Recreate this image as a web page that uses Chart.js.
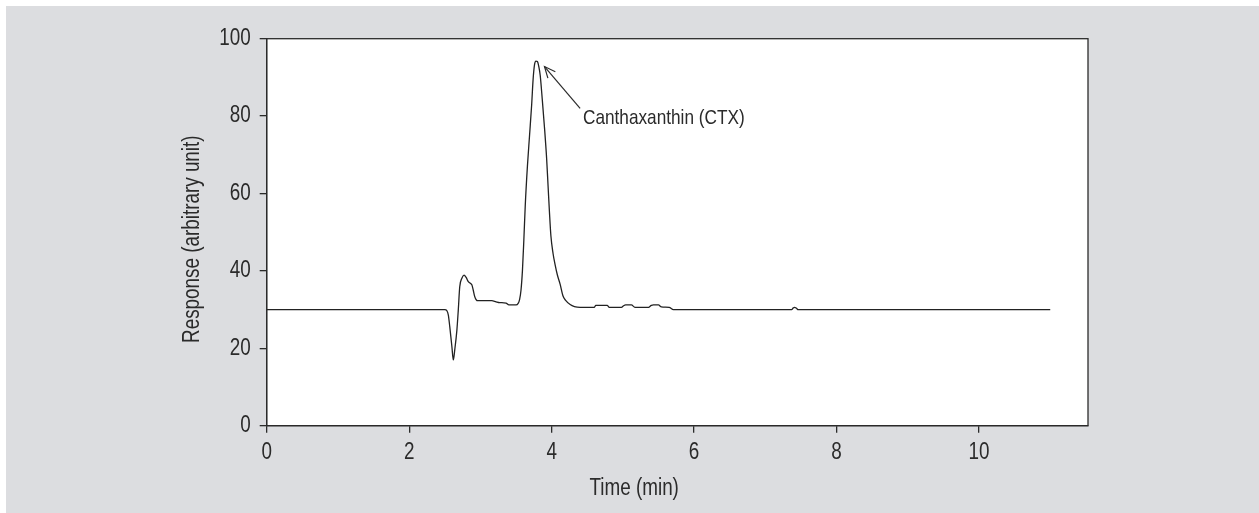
<!DOCTYPE html>
<html>
<head>
<meta charset="utf-8">
<script src="https://cdn.jsdelivr.net/npm/chart.js@4.4.1/dist/chart.umd.min.js"></script>
<style>
html,body{margin:0;padding:0;background:#ffffff;}
#wrap{position:relative;width:1259px;height:513px;}
</style>
</head>
<body>
<div id="wrap"><canvas id="c" width="1259" height="513"></canvas></div>
<script>
const timeMin = [0, 1.0, 2.0, 2.50, 2.53, 2.55, 2.57, 2.60, 2.62, 2.64, 2.67, 2.69, 2.71, 2.74, 2.77, 2.80, 2.83, 2.88, 2.90, 2.92, 2.96, 3.05, 3.16, 3.22, 3.27, 3.36, 3.40, 3.50, 3.53, 3.55, 3.57, 3.59, 3.61, 3.63, 3.66, 3.69, 3.72, 3.74, 3.76, 3.78, 3.80, 3.82, 3.84, 3.87, 3.90, 3.93, 3.95, 3.97, 3.99, 4.02, 4.05, 4.08, 4.12, 4.16, 4.20, 4.26, 4.32, 4.40, 4.60, 4.62, 4.78, 4.81, 4.98, 5.01, 5.04, 5.12, 5.17, 5.36, 5.40, 5.43, 5.50, 5.54, 5.65, 5.71, 6.5, 7.37, 7.39, 7.41, 7.44, 7.46, 9.0, 11.0];
const response = [30, 30, 30, 30, 29.7, 28.6, 25.6, 20.4, 17.0, 19.6, 24.7, 30.0, 35.9, 38.1, 38.9, 38.3, 37.2, 36.4, 35.0, 33.4, 32.3, 32.3, 32.3, 32.0, 31.8, 31.7, 31.2, 31.2, 31.6, 32.6, 35.0, 40.0, 48.0, 57.0, 67.0, 75.0, 83.0, 89.5, 93.3, 94.2, 94.1, 92.8, 90.5, 84.0, 77.0, 69.0, 62.0, 55.0, 49.0, 44.5, 41.5, 39.0, 36.5, 33.5, 32.3, 31.3, 30.8, 30.6, 30.6, 31.1, 31.1, 30.6, 30.6, 31.0, 31.2, 31.2, 30.6, 30.6, 31.1, 31.2, 31.2, 30.7, 30.6, 30.0, 30.0, 30.0, 30.4, 30.6, 30.3, 30.0, 30.0, 30.0];
const xTicks = [0, 2, 4, 6, 8, 10];
const yTicks = [0, 20, 40, 60, 80, 100];
const xTitle = 'Time (min)';
const yTitle = 'Response (arbitrary unit)';
const annotationText = 'Canthaxanthin (CTX)';
const arrowTip = [3.90, 92.8];
const arrowTail = [4.40, 82.0];
const labelPos = [4.44, 79.5];

const FONT = '"Liberation Sans", Arial, sans-serif';
const INK = '#2b2b2b';
const NARROW = 0.82;

// condensed text rendering (the reference uses a narrow sans face)
const origFill = CanvasRenderingContext2D.prototype.fillText;
CanvasRenderingContext2D.prototype.fillText = function (text, x, y, maxWidth) {
  this.save();
  this.translate(x, y);
  this.scale(NARROW, 1);
  if (maxWidth !== undefined) origFill.call(this, text, 0, 0, maxWidth / NARROW);
  else origFill.call(this, text, 0, 0);
  this.restore();
};

const bgPlugin = {
  id: 'bg',
  beforeDraw(chart) {
    const ctx = chart.ctx;
    ctx.save();
    ctx.fillStyle = '#dcdde0';
    ctx.fillRect(6, 6, chart.width - 6, chart.height - 6);
    const a = chart.chartArea;
    ctx.fillStyle = '#ffffff';
    ctx.fillRect(a.left, a.top, a.right - a.left, a.bottom - a.top);
    ctx.restore();
  },
  afterDatasetsDraw(chart) {
    const ctx = chart.ctx;
    const a = chart.chartArea;
    ctx.save();
    ctx.strokeStyle = INK;
    ctx.lineWidth = 1.3;
    ctx.strokeRect(a.left, a.top, a.right - a.left, a.bottom - a.top);
    const xs = chart.scales.x, ys = chart.scales.y;
    const tx = xs.getPixelForValue(arrowTip[0]), ty = ys.getPixelForValue(arrowTip[1]);
    const sx = xs.getPixelForValue(arrowTail[0]), sy = ys.getPixelForValue(arrowTail[1]);
    ctx.lineWidth = 1.2;
    ctx.beginPath(); ctx.moveTo(sx, sy); ctx.lineTo(tx, ty); ctx.stroke();
    const ang = Math.atan2(ty - sy, tx - sx);
    const L = 12, W = 0.42;
    ctx.beginPath();
    ctx.moveTo(tx - L * Math.cos(ang - W), ty - L * Math.sin(ang - W));
    ctx.lineTo(tx, ty);
    ctx.lineTo(tx - L * Math.cos(ang + W), ty - L * Math.sin(ang + W));
    ctx.stroke();
    ctx.fillStyle = INK;
    ctx.font = '21px ' + FONT;
    ctx.textAlign = 'left';
    ctx.textBaseline = 'middle';
    ctx.fillText(annotationText, xs.getPixelForValue(labelPos[0]), ys.getPixelForValue(labelPos[1]));
    // axis titles
    ctx.font = '23px ' + FONT;
    ctx.textAlign = 'center';
    ctx.fillText(xTitle, a.left + 367.5, a.bottom + 62.5);
    ctx.save();
    ctx.translate(a.left - 74.5, (a.top + a.bottom) / 2 + 7);
    ctx.rotate(-Math.PI / 2);
    ctx.fillText(yTitle, 0, 0);
    ctx.restore();
    ctx.restore();
  }
};

new Chart(document.getElementById('c'), {
  type: 'line',
  data: {
    datasets: [{
      data: timeMin.map((t, i) => ({x: t, y: response[i]})),
      borderColor: '#222222',
      borderWidth: 1.3,
      pointRadius: 0,
      cubicInterpolationMode: 'monotone',
      fill: false
    }]
  },
  options: {
    responsive: false,
    animation: false,
    devicePixelRatio: 1,
    layout: {padding: {top: 38.7, right: 171, left: 0, bottom: 0}},
    plugins: {legend: {display: false}, tooltip: {enabled: false}},
    scales: {
      x: {
        type: 'linear',
        min: 0, max: 11.53,
        afterBuildTicks: s => { s.ticks = xTicks.map(v => ({value: v})); },
        afterFit: s => { s.height = 513 - 425.7; },
        grid: {drawOnChartArea: false, drawTicks: true, tickLength: 7, color: INK, lineWidth: 1.3},
        border: {display: true, color: INK, width: 1.3},
        ticks: {color: INK, font: {family: FONT, size: 23}, padding: 6, maxRotation: 0},
        title: {display: false}
      },
      y: {
        type: 'linear',
        min: 0, max: 100,
        afterBuildTicks: s => { s.ticks = yTicks.map(v => ({value: v})); },
        afterFit: s => { s.width = 266.7; },
        grid: {drawOnChartArea: false, drawTicks: true, tickLength: 7, color: INK, lineWidth: 1.3},
        border: {display: true, color: INK, width: 1.3},
        ticks: {color: INK, font: {family: FONT, size: 23}, padding: 9},
        title: {display: false}
      }
    }
  },
  plugins: [bgPlugin]
});
</script>
</body>
</html>
